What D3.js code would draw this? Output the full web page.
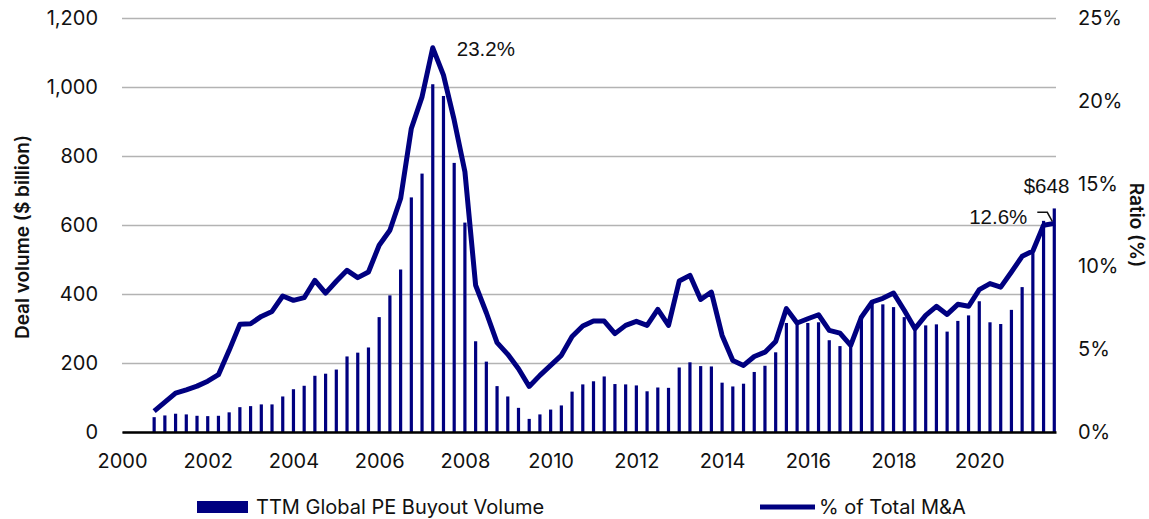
<!DOCTYPE html>
<html>
<head>
<meta charset="utf-8">
<script src="https://cdn.jsdelivr.net/npm/d3@7"></script>
<style>
  body { margin: 0; background: #fff; }
  text { font-family: Inter, "Open Sans", sans-serif; fill: #111; }
  .anno { font-family: "Liberation Sans", Arial, sans-serif; }
</style>
</head>
<body>
<div id="chart"></div>
<script>
// quarterly data, first point = Q4 2000
var startQuarter = 2000.75;

var buyoutVolume = [
  43, 48, 53, 51, 47, 46, 47, 57, 72, 75, 80, 80, 103, 124, 134, 163,
  169, 181, 219, 230, 245, 333, 396, 471, 680, 749, 1008, 974, 780, 607, 263, 204,
  133, 103, 70, 38, 51, 65, 77, 117, 138, 147, 161, 139, 138, 135, 118, 129,
  128, 187, 202, 191, 190, 143, 132, 140, 174, 192, 231, 316, 312, 316, 318, 266,
  249, 251, 333, 377, 370, 362, 333, 299, 309, 312, 291, 322, 338, 379, 318, 313,
  354, 420, 520, 612, 648
];

var pctOfTotal = [
  1.26, 1.8, 2.35, 2.55, 2.77, 3.07, 3.46, 4.93, 6.5, 6.54, 6.98, 7.28, 8.21, 7.95, 8.11, 9.16,
  8.39, 9.1, 9.76, 9.32, 9.66, 11.28, 12.18, 14.1, 18.33, 20.24, 23.2, 21.55, 18.83, 15.71, 8.86, 7.2,
  5.4, 4.69, 3.82, 2.75, 3.42, 4.02, 4.63, 5.77, 6.4, 6.7, 6.7, 5.94, 6.44, 6.68, 6.44, 7.41,
  6.44, 9.12, 9.46, 8.0, 8.45, 5.83, 4.32, 4.02, 4.56, 4.82, 5.47, 7.45, 6.58, 6.84, 7.08, 6.14,
  5.97, 5.23, 6.94, 7.85, 8.07, 8.39, 7.35, 6.24, 7.04, 7.59, 7.1, 7.71, 7.59, 8.6, 8.96, 8.75,
  9.66, 10.61, 10.93, 12.48, 12.6
];

var xTicks = [2000, 2002, 2004, 2006, 2008, 2010, 2012, 2014, 2016, 2018, 2020];
var leftTicks = [0, 200, 400, 600, 800, 1000, 1200];
var rightTicks = [0, 5, 10, 15, 20, 25];

var data = buyoutVolume.map((v, i) => ({
  t: startQuarter + i * 0.25,
  vol: v,
  pct: pctOfTotal[i]
}));

var svgWidth = 1149;
var svgHeight = 519;
var margin = { top: 18, right: 93, bottom: 87, left: 122 };
var chartWidth = svgWidth - margin.left - margin.right;
var chartHeight = svgHeight - margin.top - margin.bottom;
var navy = "#000080";

var svg = d3.select("#chart")
  .append("svg")
  .attr("width", svgWidth)
  .attr("height", svgHeight);

var chartGroup = svg.append("g")
  .attr("transform", `translate(${margin.left}, ${margin.top})`);

// scales
var xScale = d3.scaleLinear()
  .domain([2000, 2021.79])
  .range([0, chartWidth]);

var yLeft = d3.scaleLinear()
  .domain([0, 1200])
  .range([chartHeight, 0]);

var yRight = d3.scaleLinear()
  .domain([0, 25])
  .range([chartHeight, 0]);

// gridlines
chartGroup.append("g")
  .call(d3.axisLeft(yLeft).tickValues(leftTicks).tickSize(-chartWidth).tickFormat(""))
  .call(g => g.select(".domain").remove())
  .call(g => g.selectAll("line").attr("stroke", "#b3b3b3").attr("stroke-width", 1.3));

// left axis labels
chartGroup.append("g")
  .call(d3.axisLeft(yLeft).tickValues(leftTicks).tickSize(0).tickPadding(24).tickFormat(d3.format(",")))
  .call(g => g.select(".domain").remove())
  .call(g => g.selectAll("text").attr("font-size", 20).attr("fill", "#111"));

// right axis labels
chartGroup.append("g")
  .attr("transform", `translate(${chartWidth}, 0)`)
  .call(d3.axisRight(yRight).tickValues(rightTicks).tickSize(0).tickPadding(22).tickFormat(d => d + "%"))
  .call(g => g.select(".domain").remove())
  .call(g => g.selectAll("text").attr("font-size", 20).attr("fill", "#111"));

// bars
chartGroup.append("g")
  .selectAll("rect")
  .data(data)
  .enter()
  .append("rect")
  .attr("x", d => xScale(d.t) - 1.6)
  .attr("width", 3.2)
  .attr("y", d => yLeft(d.vol))
  .attr("height", d => chartHeight - yLeft(d.vol))
  .attr("fill", navy);

// x axis
chartGroup.append("g")
  .attr("transform", `translate(0, ${chartHeight})`)
  .call(d3.axisBottom(xScale).tickValues(xTicks).tickSize(0).tickPadding(22).tickFormat(d3.format("d")))
  .call(g => g.select(".domain").attr("stroke", "#000").attr("stroke-width", 2.5))
  .call(g => g.selectAll("text").attr("font-size", 20).attr("fill", "#111"));

// ratio line
var line = d3.line()
  .x(d => xScale(d.t))
  .y(d => yRight(d.pct));

chartGroup.append("path")
  .datum(data)
  .attr("fill", "none")
  .attr("stroke", navy)
  .attr("stroke-width", 5)
  .attr("stroke-linejoin", "round")
  .attr("d", line);

// annotations
var peak = data[26];
var last = data[data.length - 1];

chartGroup.append("text")
  .attr("class", "anno")
  .attr("x", xScale(peak.t) + 24)
  .attr("y", yRight(peak.pct) + 8)
  .attr("font-size", 20.5)
  .text("23.2%");

chartGroup.append("text")
  .attr("class", "anno")
  .attr("x", xScale(last.t) - 27)
  .attr("y", yRight(last.pct) + 1)
  .attr("text-anchor", "end")
  .attr("font-size", 20.5)
  .text("12.6%");

chartGroup.append("path")
  .attr("fill", "none")
  .attr("stroke", "#111")
  .attr("stroke-width", 1.5)
  .attr("d", `M${xScale(last.t) - 17},${yRight(last.pct) - 11} h10 l5,9`);

chartGroup.append("text")
  .attr("class", "anno")
  .attr("x", xScale(last.t) + 15)
  .attr("y", yLeft(last.vol) - 15)
  .attr("text-anchor", "end")
  .attr("font-size", 20.5)
  .text("$648");

// axis titles
svg.append("text")
  .attr("transform", `translate(29, ${margin.top + chartHeight / 2 + 12}) rotate(-90)`)
  .attr("text-anchor", "middle")
  .attr("font-size", 19)
  .attr("font-weight", 600)
  .text("Deal volume ($ billion)");

svg.append("text")
  .attr("transform", `translate(1130, ${margin.top + chartHeight / 2}) rotate(90)`)
  .attr("text-anchor", "middle")
  .attr("font-size", 19)
  .attr("font-weight", 600)
  .text("Ratio (%)");

// legend
var legend = svg.append("g").attr("transform", "translate(0, 507)");

legend.append("rect")
  .attr("x", 197)
  .attr("y", -6)
  .attr("width", 51)
  .attr("height", 12)
  .attr("fill", navy);

legend.append("text")
  .attr("x", 256)
  .attr("y", 7)
  .attr("font-size", 20)
  .text("TTM Global PE Buyout Volume");

legend.append("line")
  .attr("x1", 760)
  .attr("x2", 815)
  .attr("stroke", navy)
  .attr("stroke-width", 5);

legend.append("text")
  .attr("x", 819)
  .attr("y", 7)
  .attr("font-size", 20)
  .text("% of Total M&A");
</script>
</body>
</html>
